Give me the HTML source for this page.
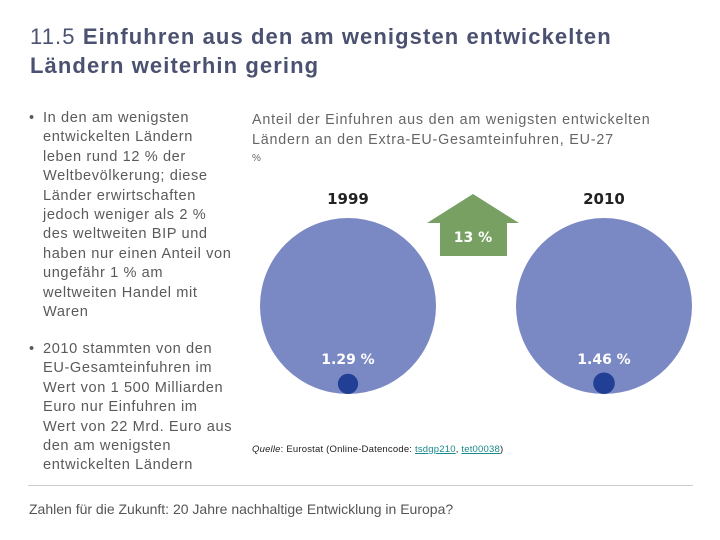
<!DOCTYPE html>
<html><head><meta charset="utf-8"><style>
body{margin:0;width:720px;height:540px;background:#fff;position:relative;overflow:hidden;font-family:"Liberation Sans",sans-serif}
.t{position:absolute;white-space:nowrap}
.ttl{left:30px;font-size:22px;color:#4b5170;line-height:29px;letter-spacing:1.1px}
.b{left:43px;font-size:14.6px;color:#5a5a5a;line-height:19.4px;letter-spacing:0.6px}
</style></head><body>
<div class="t ttl" style="top:22px">11.5 <b>Einfuhren aus den am wenigsten entwickelten</b><br><b>Ländern weiterhin gering</b></div>
<div class="t b" style="left:29px;top:109px">•</div>
<div class="t b" style="top:109px">In den am wenigsten<br>entwickelten Ländern<br>leben rund 12 % der<br>Weltbevölkerung; diese<br>Länder erwirtschaften<br>jedoch weniger als 2 %<br>des weltweiten BIP und<br>haben nur einen Anteil von<br>ungefähr 1 % am<br>weltweiten Handel mit<br>Waren</div>
<div class="t b" style="left:29px;top:340px">•</div>
<div class="t b" style="top:340px">2010 stammten von den<br>EU-Gesamteinfuhren im<br>Wert von 1 500 Milliarden<br>Euro nur Einfuhren im<br>Wert von 22 Mrd. Euro aus<br>den am wenigsten<br>entwickelten Ländern</div>
<div class="t" style="left:252px;top:110px;font-size:14.3px;color:#666;line-height:20px;letter-spacing:0.8px">Anteil der Einfuhren aus den am wenigsten entwickelten<br>Ländern an den Extra-EU-Gesamteinfuhren, EU-27</div>
<div class="t" style="left:252px;top:153px;font-size:10px;color:#666">%</div>
<svg id="chart" width="720" height="540" style="position:absolute;left:0;top:0"></svg>
<div class="t" style="left:252px;top:444px;font-size:9.5px;color:#222;letter-spacing:0.2px"><i>Quelle</i>: Eurostat (Online-Datencode: <span style="color:#1a8a8a;text-decoration:underline">tsdgp210</span>, <span style="color:#1a8a8a;text-decoration:underline">tet00038</span>)</div>
<div style="position:absolute;left:28px;top:485px;width:665px;height:1px;background:#ccc"></div>
<div class="t" style="left:29px;top:501px;font-size:14px;color:#555">Zahlen für die Zukunft: 20 Jahre nachhaltige Entwicklung in Europa?</div>
<script>
const years=["1999","2010"];
const shares=[1.29,1.46];
const growthLabel="13 %";
const ns="http://www.w3.org/2000/svg";
const svg=document.getElementById('chart');
function mk(tag,attrs,txt){const e=document.createElementNS(ns,tag);for(const k in attrs)e.setAttribute(k,attrs[k]);if(txt!==undefined)e.textContent=txt;svg.appendChild(e);return e;}
const xPos=i=>348+i*256;
const bigR=88, cy=306, baseY=394;
const rScale=v=>8.9*Math.sqrt(v);
years.forEach((y,i)=>{
  const cx=xPos(i);
  const c=mk('circle',{cx:cx,cy:cy,r:bigR,fill:'#7a88c3'});
  
  
  const r=rScale(shares[i]);
  const s=mk('circle',{cx:cx,cy:baseY-r,r:r,fill:'#213f94'});
  
  
  const yl=mk('text',{x:cx,y:204,'text-anchor':'middle','font-size':15,'font-weight':'bold',fill:'#222','font-family':'DejaVu Sans, sans-serif'},y);
  
  
  const pl=mk('text',{x:cx,y:364,'text-anchor':'middle','font-size':14,'font-weight':'bold',fill:'#fff','font-family':'DejaVu Sans, sans-serif'},shares[i].toFixed(2)+' %');
  
  
});
const ar=mk('polygon',{points:'473,194 519,223 507,223 507,256 440,256 440,223 427,223',fill:'#77a062'});


const gl=mk('text',{x:473,y:242,'text-anchor':'middle','font-size':14,'font-weight':'bold',fill:'#fff','font-family':'DejaVu Sans, sans-serif'},growthLabel);


</script>
</body></html>
